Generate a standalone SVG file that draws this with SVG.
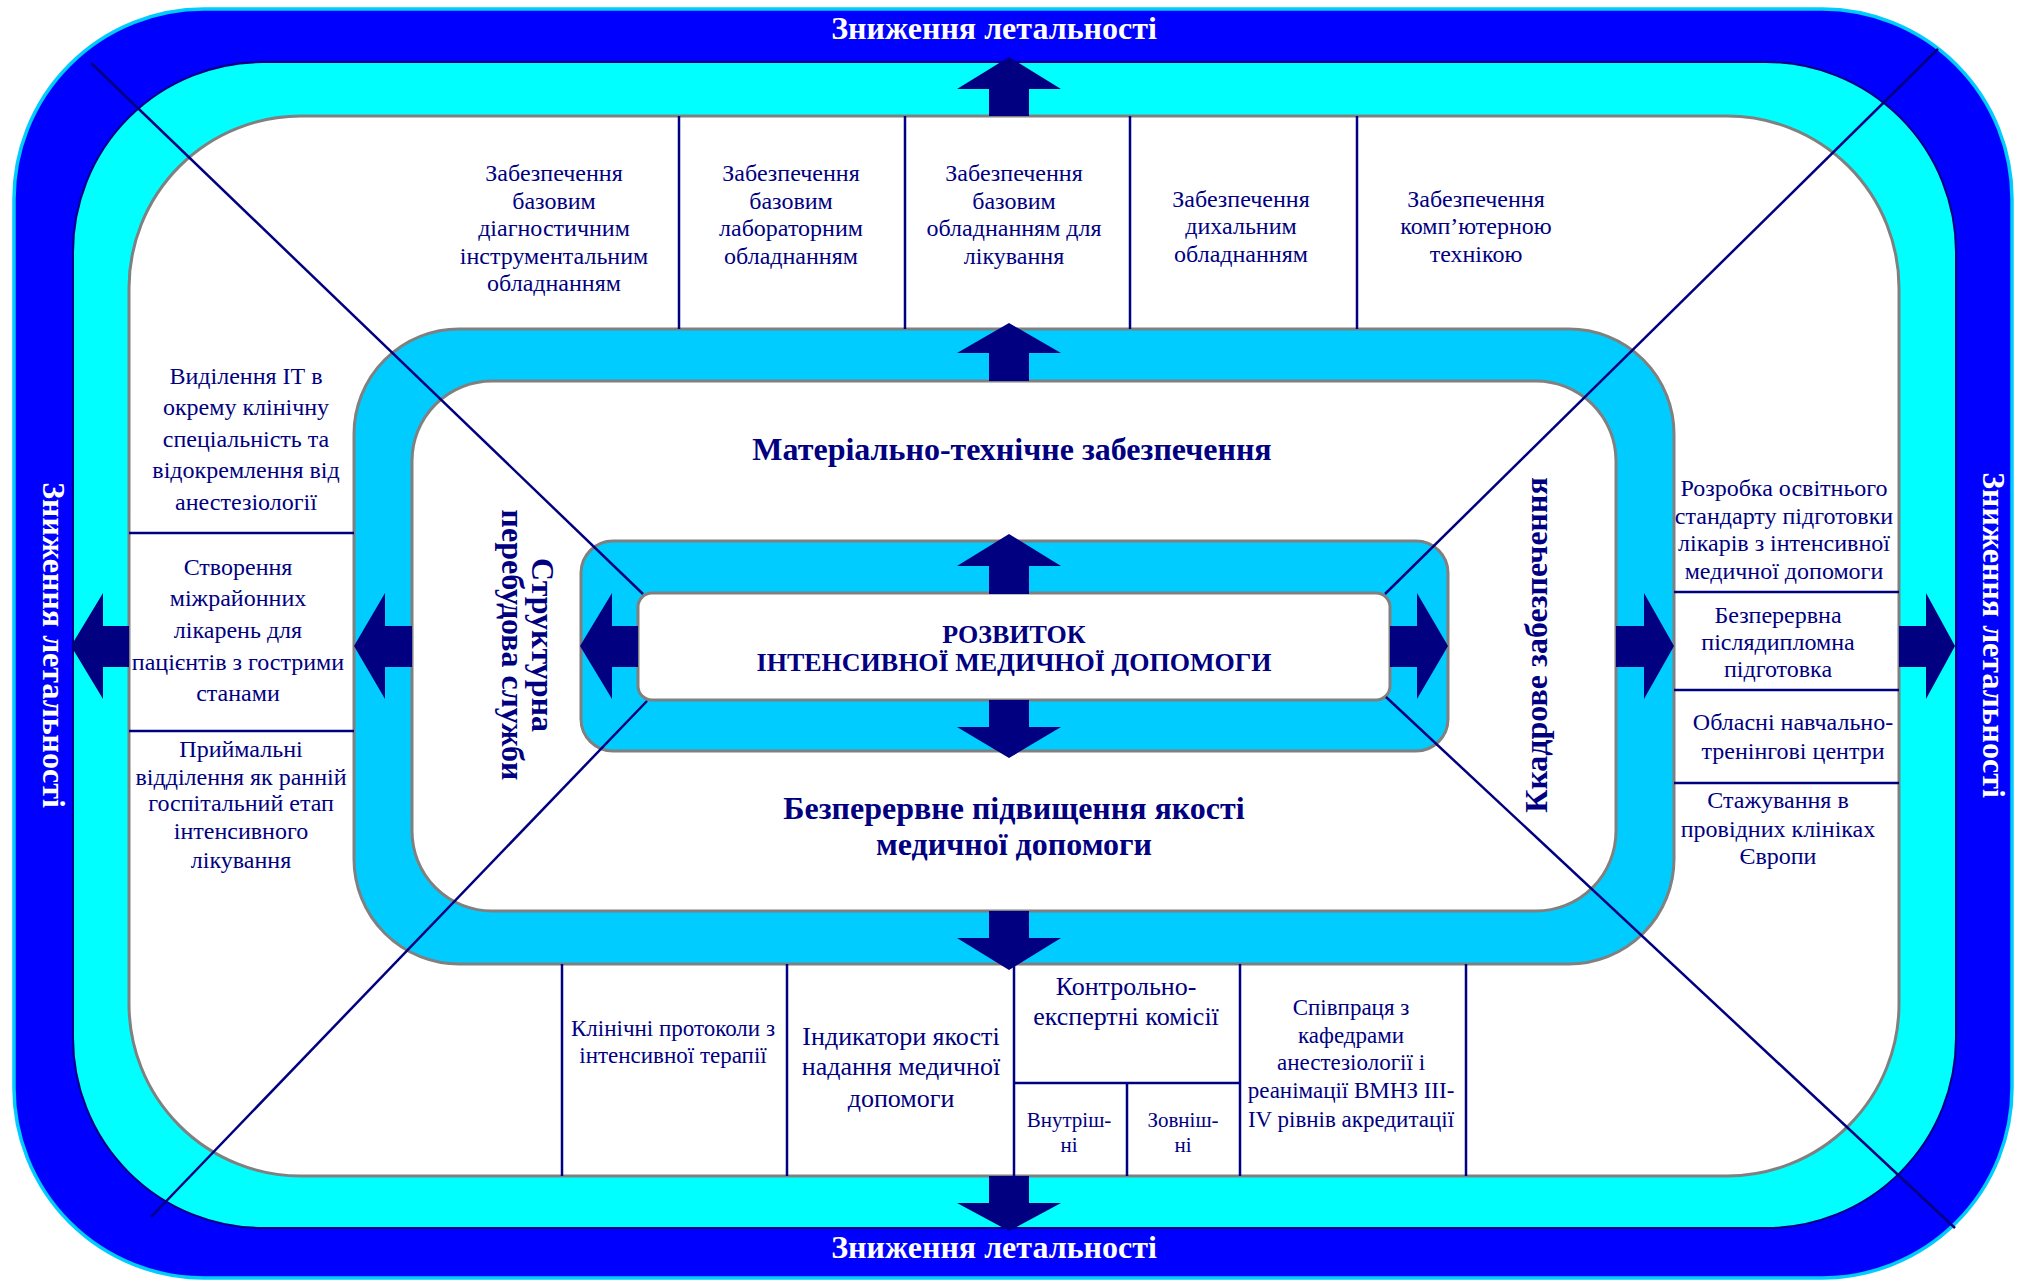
<svg xmlns="http://www.w3.org/2000/svg" width="2020" height="1281" viewBox="0 0 2020 1281">
<style>
text{font-family:"Liberation Serif","Times New Roman",serif;fill:#000080;text-anchor:middle}
.t{font-size:24px}
.m{font-size:26px}
.s{font-size:23px}
.xs{font-size:21px}
.b{font-size:32px;font-weight:bold}
.c{font-size:26px;font-weight:bold}
.w{font-size:32px;font-weight:bold;fill:#FFFFFF}
.ln{stroke:#000080;stroke-width:2.5;fill:none}
.dg{stroke:#000080;stroke-width:2.5;fill:none}
.ar{fill:#000080}
.gr{stroke:#808080;stroke-width:3}
</style>
<rect width="2020" height="1281" fill="#FFFFFF"/>
<g id="outer-ring">
<rect x="14" y="9" width="1998" height="1269" rx="190" ry="190" fill="#0000FF" stroke="#00CCFF" stroke-width="3.5"/>
</g>
<g id="cyan-ring">
<rect x="73" y="62" width="1883" height="1166" rx="190" ry="190" fill="#00FFFF" stroke="#000080" stroke-width="2"/>
</g>
<g id="outer-field">
<rect x="129" y="116" width="1770" height="1060" rx="172" ry="172" fill="#FFFFFF" class="gr"/>
</g>
<g id="middle-ring">
<rect x="354" y="329" width="1320" height="635" rx="105" ry="105" fill="#00CCFF" class="gr"/>
<rect x="412" y="381" width="1204" height="530" rx="80" ry="80" fill="#FFFFFF" class="gr"/>
</g>
<g id="core-ring">
<rect x="581" y="541" width="867" height="210" rx="32" ry="32" fill="#00CCFF" class="gr"/>
</g>
<g id="center">
<rect x="638" y="593" width="752" height="107" rx="14" ry="14" fill="#FFFFFF" class="gr"/>
<text class="c" x="1014" y="643">РОЗВИТОК</text>
<text class="c" x="1014" y="671">ІНТЕНСИВНОЇ МЕДИЧНОЇ ДОПОМОГИ</text>
</g>
<g id="cell-lines">
<path class="ln" d="M679 116V329M905 116V329M1130 116V329M1357 116V329"/>
<path class="ln" d="M129 533H354M129 731H354"/>
<path class="ln" d="M1674 592H1899M1674 690H1899M1674 783H1899"/>
<path class="ln" d="M562 964V1176M787 964V1176M1014 966V1176M1240 964V1176M1466 964V1176M1014 1083H1240M1127 1083V1176"/>
</g>
<g id="connectors">
<polygon class="ar" points="1009,57 1061,89 1029,89 1029,116 989,116 989,89 957,89"/>
<polygon class="ar" points="1009,323 1061,353 1029,353 1029,381 989,381 989,353 957,353"/>
<polygon class="ar" points="1009,534 1061,566 1029,566 1029,594 989,594 989,566 957,566"/>
<polygon class="ar" points="1009,758 1061,727 1029,727 1029,700 989,700 989,727 957,727"/>
<polygon class="ar" points="1009,970 1061,938 1029,938 1029,911 989,911 989,938 957,938"/>
<polygon class="ar" points="1009,1231 1061,1203 1029,1203 1029,1176 989,1176 989,1203 957,1203"/>
<polygon class="ar" points="71,646 103,593 103,626 129,626 129,667 103,667 103,699"/>
<polygon class="ar" points="354,646 385,593 385,626 412,626 412,667 385,667 385,699"/>
<polygon class="ar" points="580,646 612,593 612,626 638,626 638,667 612,667 612,699"/>
<polygon class="ar" points="1448,646 1417,593 1417,626 1390,626 1390,667 1417,667 1417,699"/>
<polygon class="ar" points="1674,646 1644,593 1644,626 1616,626 1616,667 1644,667 1644,699"/>
<polygon class="ar" points="1955,646 1926,593 1926,626 1899,626 1899,667 1926,667 1926,699"/>
<line class="dg" x1="91" y1="63" x2="643" y2="594"/>
<line class="dg" x1="1938" y1="49" x2="1385" y2="594"/>
<line class="dg" x1="151" y1="1217" x2="647" y2="701"/>
<line class="dg" x1="1386" y1="697" x2="1955" y2="1228"/>
</g>
<g id="labels-ring">
<text class="w" x="994" y="39">Зниження летальності</text>
<text class="w" x="994" y="1258">Зниження летальності</text>
<text class="w" transform="translate(43,645) rotate(90)">Зниження летальності</text>
<text class="w" transform="translate(1983,635) rotate(90)">Зниження летальності</text>
</g>
<g id="label-material">
<text class="b" x="1012" y="460">Матеріально-технічне забезпечення</text>
</g>
<g id="label-quality">
<text class="b" x="1014" y="819">Безперервне підвищення якості</text>
<text class="b" x="1014" y="855">медичної допомоги</text>
</g>
<g id="label-structure" transform="translate(517,645) rotate(90)">
<text class="b" x="0" y="-15">Структурна</text>
<text class="b" x="0" y="15">перебудова служби</text>
</g>
<g id="label-staff">
<text class="b" transform="translate(1547,645) rotate(-90)">Ккадрове забезпечення</text>
</g>
<g id="top-cell-1">
<text class="t" x="554" y="181">Забезпечення</text>
<text class="t" x="554" y="209">базовим</text>
<text class="t" x="554" y="236">діагностичним</text>
<text class="t" x="554" y="264">інструментальним</text>
<text class="t" x="554" y="291">обладнанням</text>
</g>
<g id="top-cell-2">
<text class="t" x="791" y="181">Забезпечення</text>
<text class="t" x="791" y="209">базовим</text>
<text class="t" x="791" y="236">лабораторним</text>
<text class="t" x="791" y="264">обладнанням</text>
</g>
<g id="top-cell-3">
<text class="t" x="1014" y="181">Забезпечення</text>
<text class="t" x="1014" y="209">базовим</text>
<text class="t" x="1014" y="236">обладнанням для</text>
<text class="t" x="1014" y="264">лікування</text>
</g>
<g id="top-cell-4">
<text class="t" x="1241" y="207">Забезпечення</text>
<text class="t" x="1241" y="234">дихальним</text>
<text class="t" x="1241" y="262">обладнанням</text>
</g>
<g id="top-cell-5">
<text class="t" x="1476" y="207">Забезпечення</text>
<text class="t" x="1476" y="234">комп’ютерною</text>
<text class="t" x="1476" y="262">технікою</text>
</g>
<g id="left-cell-1">
<text class="t" x="246" y="384">Виділення ІТ в</text>
<text class="t" x="246" y="415">окрему клінічну</text>
<text class="t" x="246" y="447">спеціальність та</text>
<text class="t" x="246" y="478">відокремлення від</text>
<text class="t" x="246" y="510">анестезіології</text>
</g>
<g id="left-cell-2">
<text class="t" x="238" y="575">Створення</text>
<text class="t" x="238" y="606">міжрайонних</text>
<text class="t" x="238" y="638">лікарень для</text>
<text class="t" x="238" y="670">пацієнтів з гострими</text>
<text class="t" x="238" y="701">станами</text>
</g>
<g id="left-cell-3">
<text class="t" x="241" y="757">Приймальні</text>
<text class="t" x="241" y="785">відділення як ранній</text>
<text class="t" x="241" y="811">госпітальний етап</text>
<text class="t" x="241" y="839">інтенсивного</text>
<text class="t" x="241" y="868">лікування</text>
</g>
<g id="right-cell-1">
<text class="t" x="1784" y="496">Розробка освітнього</text>
<text class="t" x="1784" y="524">стандарту підготовки</text>
<text class="t" x="1784" y="551">лікарів з інтенсивної</text>
<text class="t" x="1784" y="579">медичної допомоги</text>
</g>
<g id="right-cell-2">
<text class="t" x="1778" y="623">Безперервна</text>
<text class="t" x="1778" y="650">післядипломна</text>
<text class="t" x="1778" y="677">підготовка</text>
</g>
<g id="right-cell-3">
<text class="t" x="1793" y="730">Обласні навчально-</text>
<text class="t" x="1793" y="759">тренінгові центри</text>
</g>
<g id="right-cell-4">
<text class="t" x="1778" y="808">Стажування в</text>
<text class="t" x="1778" y="837">провідних клініках</text>
<text class="t" x="1778" y="864">Європи</text>
</g>
<g id="bottom-cell-1">
<text class="s" x="673" y="1036">Клінічні протоколи з</text>
<text class="s" x="673" y="1063">інтенсивної терапії</text>
</g>
<g id="bottom-cell-2">
<text class="m" x="901" y="1045">Індикатори якості</text>
<text class="m" x="901" y="1075">надання медичної</text>
<text class="m" x="901" y="1107">допомоги</text>
</g>
<g id="bottom-cell-3">
<text class="m" x="1126" y="995">Контрольно-</text>
<text class="m" x="1126" y="1025">експертні комісії</text>
</g>
<g id="bottom-cell-3a">
<text class="xs" x="1069" y="1127">Внутріш-</text>
<text class="xs" x="1069" y="1152">ні</text>
</g>
<g id="bottom-cell-3b">
<text class="xs" x="1183" y="1127">Зовніш-</text>
<text class="xs" x="1183" y="1152">ні</text>
</g>
<g id="bottom-cell-4">
<text class="s" x="1351" y="1015">Співпраця з</text>
<text class="s" x="1351" y="1043">кафедрами</text>
<text class="s" x="1351" y="1070">анестезіології і</text>
<text class="s" x="1351" y="1098">реанімації ВМНЗ ІІІ-</text>
<text class="s" x="1351" y="1127">IV рівнів акредитації</text>
</g>
</svg>
